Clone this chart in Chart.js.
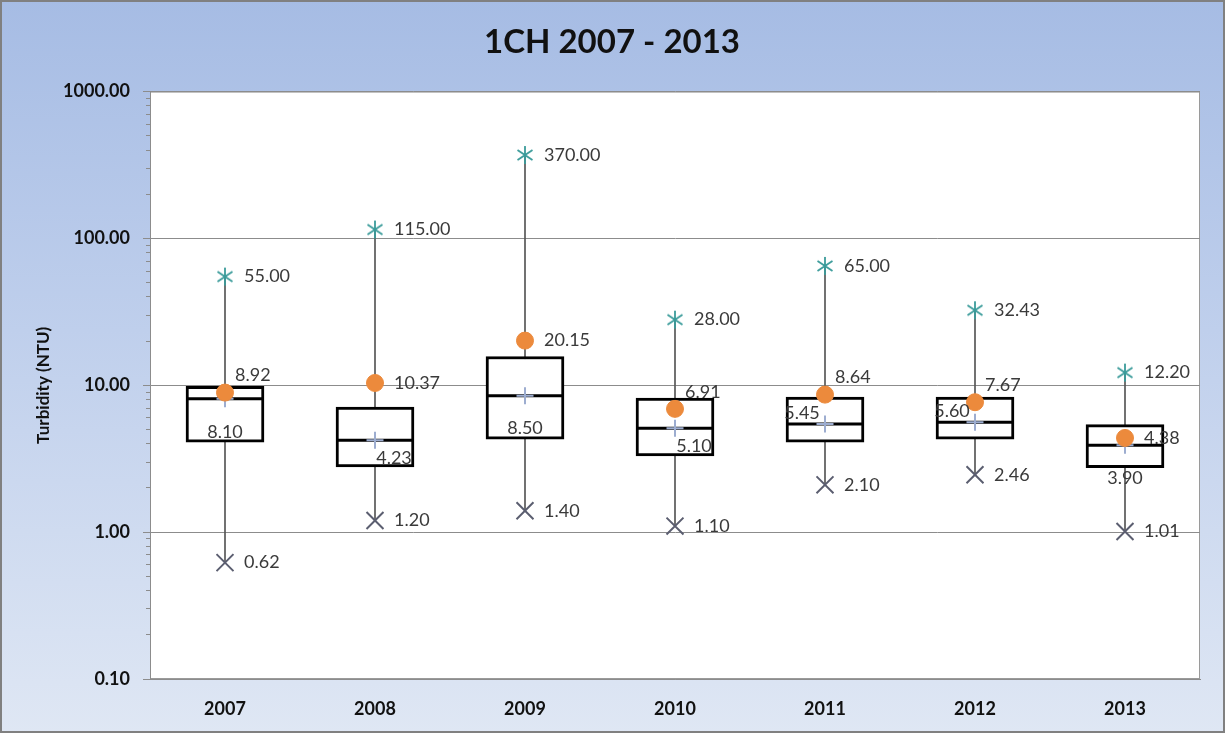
<!DOCTYPE html>
<html>
<head>
<meta charset="utf-8">
<title>1CH 2007 - 2013</title>
<script src="https://cdn.jsdelivr.net/npm/chart.js@4.4.1/dist/chart.umd.min.js"></script>
<style>
  html, body { margin: 0; padding: 0; background: #fff; }
  #chart { display: block; }
</style>
</head>
<body>
<canvas id="chart" width="1225" height="733"></canvas>
<script>
// Values
const years = ['2007', '2008', '2009', '2010', '2011', '2012', '2013'];
const maxVals = [55.00, 115.00, 370.00, 28.00, 65.00, 32.43, 12.20];
const minVals = [0.62, 1.20, 1.40, 1.10, 2.10, 2.46, 1.01];
const meanVals = [8.92, 10.37, 20.15, 6.91, 8.64, 7.67, 4.38];
const medianVals = [8.10, 4.23, 8.50, 5.10, 5.45, 5.60, 3.90];
const q1Vals = [4.10, 2.78, 4.30, 3.30, 4.10, 4.30, 2.75];
const q3Vals = [9.85, 7.10, 15.70, 8.20, 8.30, 8.30, 5.40];
const yTickValues = [0.1, 1, 10, 100, 1000];

// where each data label sits next to its marker (layout only)
const meanLabelPos = ['upRight', 'right', 'right', 'upRight', 'upRight', 'upRight', 'right'];
const medianLabelPos = ['below', 'belowRight', 'below', 'belowRight', 'upLeft', 'upLeft', 'below'];

const LABEL_OFFSETS = {
    right: {dx: 19, dy: 0, align: 'left'},
    upRight: {dx: 10, dy: -17, align: 'left'},
    below: {dx: 0, dy: 33, align: 'center'},
    belowRight: {dx: 19, dy: 18, align: 'center'},
    upLeft: {dx: -23, dy: -11, align: 'center'},
};

// minor log ticks (2..9 in each decade) for the short marks on the y axis
const minorTicks = [];
for (let d = -1; d < 3; d++) {
    for (let m = 2; m < 10; m++) {
        minorTicks.push(m * Math.pow(10, d));
    }
}

// Excel-like asterisk marker: vertical bar plus an X
const makeStar = (color) => {
    const c = document.createElement('canvas');
    c.width = 22;
    c.height = 22;
    const g = c.getContext('2d');
    g.strokeStyle = color;
    g.lineWidth = 1.8;
    g.beginPath();
    g.moveTo(11, 2); g.lineTo(11, 20);
    g.moveTo(3.5, 6); g.lineTo(18.5, 16);
    g.moveTo(3.5, 16); g.lineTo(18.5, 6);
    g.stroke();
    return c;
};

const backgroundPlugin = {
    id: 'excelBackground',
    beforeDraw(chart) {
        const {ctx, width, height, chartArea} = chart;
        ctx.save();
        const grad = ctx.createLinearGradient(0, 0, 0, height);
        grad.addColorStop(0, '#a6bce4');
        grad.addColorStop(0.45, '#bfcfec');
        grad.addColorStop(1, '#dfe7f4');
        ctx.fillStyle = grad;
        ctx.fillRect(0, 0, width, height);
        ctx.fillStyle = '#ffffff';
        ctx.fillRect(chartArea.left, chartArea.top,
            chartArea.right - chartArea.left, chartArea.bottom - chartArea.top);
        ctx.strokeStyle = '#9a9a9a';
        ctx.lineWidth = 1;
        ctx.strokeRect(chartArea.left + 0.5, chartArea.top + 0.5,
            chartArea.right - chartArea.left - 1, chartArea.bottom - chartArea.top - 1);
        ctx.strokeStyle = '#808080';
        ctx.lineWidth = 2;
        ctx.strokeRect(1, 1, width - 2, height - 2);
        ctx.restore();
    },
};

const dataLabelPlugin = {
    id: 'boxLabels',
    afterDatasetsDraw(chart) {
        const {ctx} = chart;
        const sets = [
            {label: 'Max', values: maxVals, pos: years.map(() => 'right')},
            {label: 'Min', values: minVals, pos: years.map(() => 'right')},
            {label: 'Mean', values: meanVals, pos: meanLabelPos},
            {label: 'Median', values: medianVals, pos: medianLabelPos},
        ];
        ctx.save();
        ctx.font = '18px Lato';
        ctx.fillStyle = '#3a3a3a';
        ctx.textBaseline = 'middle';
        sets.forEach((set) => {
            const idx = chart.data.datasets.findIndex(ds => ds.label === set.label);
            const meta = chart.getDatasetMeta(idx);
            meta.data.forEach((pt, i) => {
                const off = LABEL_OFFSETS[set.pos[i]];
                ctx.textAlign = off.align;
                ctx.fillText(set.values[i].toFixed(2), pt.x + off.dx, pt.y + off.dy);
            });
        });
        ctx.restore();
    },
};

Chart.defaults.font.family = 'Lato';

const boldFont = (size) => ({family: 'Lato', size: size, weight: 'bold'});

new Chart(document.getElementById('chart'), {
    data: {
        labels: years,
        datasets: [
            {
                type: 'bar',
                label: 'Range',
                data: years.map((_, i) => [minVals[i], maxVals[i]]),
                backgroundColor: '#555555',
                barThickness: 1,
                grouped: false,
                order: 10,
            },
            {
                type: 'bar',
                label: 'Box',
                data: years.map((_, i) => [q1Vals[i], q3Vals[i]]),
                backgroundColor: '#ffffff',
                borderColor: '#000000',
                borderWidth: 3,
                borderSkipped: false,
                barThickness: 78,
                grouped: false,
                order: 9,
            },
            {
                type: 'line',
                label: 'MedianLine',
                data: medianVals,
                showLine: false,
                pointStyle: 'line',
                pointRadius: 39,
                pointBorderWidth: 3,
                pointBorderColor: '#000000',
                order: 8,
            },
            {
                type: 'line',
                label: 'Median',
                data: medianVals,
                showLine: false,
                pointStyle: 'cross',
                pointRadius: 8.5,
                pointBorderWidth: 2,
                pointBorderColor: '#9dadd0',
                order: 7,
            },
            {
                type: 'line',
                label: 'Mean',
                data: meanVals,
                showLine: false,
                pointStyle: 'circle',
                pointRadius: 8.5,
                pointBorderWidth: 1,
                pointBackgroundColor: '#ec8a3c',
                pointBorderColor: '#ec8a3c',
                order: 6,
            },
            {
                type: 'line',
                label: 'Max',
                data: maxVals,
                showLine: false,
                pointStyle: makeStar('#3a9b9a'),
                pointRadius: 10,
                order: 5,
            },
            {
                type: 'line',
                label: 'Min',
                data: minVals,
                showLine: false,
                pointStyle: 'crossRot',
                pointRadius: 12,
                pointBorderWidth: 2,
                pointBorderColor: '#5b5e70',
                order: 5,
            },
        ],
    },
    options: {
        responsive: false,
        animation: false,
        events: [],
        layout: {autoPadding: false, padding: {left: 24, right: 25, top: 0, bottom: 0}},
        plugins: {
            legend: {display: false},
            tooltip: {enabled: false},
            title: {
                display: true,
                text: '1CH 2007 - 2013',
                font: boldFont(33),
                color: '#111111',
                padding: {top: 23, bottom: 29},
            },
        },
        scales: {
            x: {
                type: 'category',
                afterFit: (s) => {
                    s.height = 54;
                    s.paddingLeft = 0;
                    s.paddingRight = 0;
                },
                grid: {display: false},
                border: {display: true, color: '#8c8c8c'},
                ticks: {font: boldFont(18), color: '#111111', padding: 11},
            },
            y: {
                type: 'logarithmic',
                position: 'left',
                weight: 1,
                min: 0.1,
                max: 1000,
                afterBuildTicks: (s) => { s.ticks = yTickValues.map(v => ({value: v})); },
                afterFit: (s) => { s.width = 126; },
                ticks: {
                    callback: (v) => Number(v).toFixed(2),
                    font: boldFont(18),
                    color: '#111111',
                    padding: 13,
                },
                grid: {color: '#8c8c8c', tickLength: 7},
                border: {display: true, color: '#8c8c8c'},
                title: {
                    display: true,
                    text: 'Turbidity (NTU)',
                    font: boldFont(17),
                    color: '#111111',
                    padding: {top: 9, bottom: 0},
                },
            },
            yMinor: {
                type: 'logarithmic',
                position: 'left',
                weight: 0,
                min: 0.1,
                max: 1000,
                afterBuildTicks: (s) => { s.ticks = minorTicks.map(v => ({value: v})); },
                afterFit: (s) => { s.width = 0; },
                ticks: {display: false},
                grid: {drawOnChartArea: false, tickLength: 4, color: '#8c8c8c'},
                border: {display: false},
            },
        },
    },
    plugins: [backgroundPlugin, dataLabelPlugin],
});
</script>
</body>
</html>
